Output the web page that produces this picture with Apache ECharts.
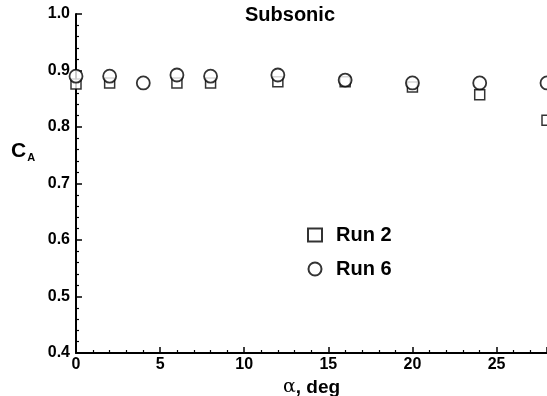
<!DOCTYPE html>
<html>
<head>
<meta charset="utf-8">
<script src="https://cdn.jsdelivr.net/npm/echarts@6/dist/echarts.min.js"></script>
<style>
  html, body { margin: 0; padding: 0; background: #fff; }
  #chart { width: 547px; height: 396px; }
</style>
</head>
<body>
<div id="chart"></div>
<script>
// angle of attack, deg
const alphaRun2 = [0, 2, 6, 8, 12, 16, 20, 24, 28];
const caRun2 = [0.876, 0.878, 0.878, 0.878, 0.880, 0.880, 0.871, 0.857, 0.812];

const alphaRun6 = [0, 2, 4, 6, 8, 12, 16, 20, 24, 28];
const caRun6 = [0.890, 0.890, 0.878, 0.892, 0.890, 0.892, 0.883, 0.878, 0.878, 0.878];

const pair = (xs, ys) => xs.map((x, i) => [x, ys[i]]);

const chart = echarts.init(document.getElementById('chart'));
const font = 'Liberation Sans, Arial, sans-serif';

const option = {
    animation: false,
    title: {
        text: 'Subsonic',
        left: 240,
        top: 5,
        padding: [0, 0, 0, 5],
        textStyle: { fontFamily: font, fontWeight: 'bold', fontSize: 20, color: '#000' }
    },
    legend: {
        orient: 'vertical',
        left: 307,
        top: 225,
        padding: 0,
        itemWidth: 14,
        itemHeight: 13,
        itemGap: 14,
        textStyle: { fontFamily: font, fontWeight: 'bold', fontSize: 20, color: '#000', padding: [0, 0, 0, 9] },
        data: ['Run 2', 'Run 6']
    },
    // C_A label sits high on the axis, so place it by hand
    graphic: [{
        type: 'text',
        left: 11,
        top: 141,
        style: {
            text: '{c|C}{s|A}',
            rich: {
                c: { fontFamily: font, fontWeight: 'bold', fontSize: 21, fill: '#000' },
                s: { fontFamily: font, fontWeight: 'bold', fontSize: 11, fill: '#000', padding: [12, 0, 0, 1] }
            }
        }
    }],
    grid: { left: 76, right: 0, top: 14, bottom: 43, outerBoundsMode: 'none' },
    xAxis: {
        type: 'value',
        min: 0,
        max: 28,
        interval: 5,
        name: '{a|α}, deg',
        nameLocation: 'middle',
        nameGap: 23,
        nameTextStyle: {
            fontFamily: font, fontWeight: 'bold', fontSize: 19, color: '#000',
            rich: { a: { fontFamily: 'DejaVu Serif, serif', fontSize: 19, fontWeight: 'normal', color: '#000' } }
        },
        axisLine: { lineStyle: { color: '#000', width: 2 } },
        axisTick: { inside: true, length: 6, lineStyle: { color: '#000', width: 1.5 } },
        minorTick: { show: true, splitNumber: 5, length: 3, lineStyle: { color: '#000', width: 1.2 } },
        axisLabel: { fontFamily: font, fontWeight: 'bold', fontSize: 16, color: '#000', margin: 4,
            showMaxLabel: false },
        splitLine: { show: false }
    },
    yAxis: {
        type: 'value',
        min: 0.4,
        max: 1.0,
        interval: 0.1,
        axisLine: { show: true, lineStyle: { color: '#000', width: 2 } },
        axisTick: { show: true, inside: true, length: 6, lineStyle: { color: '#000', width: 1.5 } },
        minorTick: { show: true, splitNumber: 5, length: 3, lineStyle: { color: '#000', width: 1.2 } },
        axisLabel: { fontFamily: font, fontWeight: 'bold', fontSize: 16, color: '#000', margin: 6,
            formatter: v => v.toFixed(1) },
        splitLine: { show: false }
    },
    series: [
        {
            name: 'Run 2',
            type: 'scatter',
            symbol: 'rect',
            symbolSize: 10,
            clip: false,
            itemStyle: { color: '#fff', borderColor: '#000', borderWidth: 1.5 },
            data: pair(alphaRun2, caRun2),
            z: 2
        },
        {
            name: 'Run 6',
            type: 'scatter',
            symbol: 'circle',
            symbolSize: 13,
            clip: false,
            itemStyle: { color: '#fff', borderColor: '#000', borderWidth: 1.8 },
            data: pair(alphaRun6, caRun6),
            z: 3
        }
    ]
};

chart.setOption(option);
</script>
</body>
</html>
